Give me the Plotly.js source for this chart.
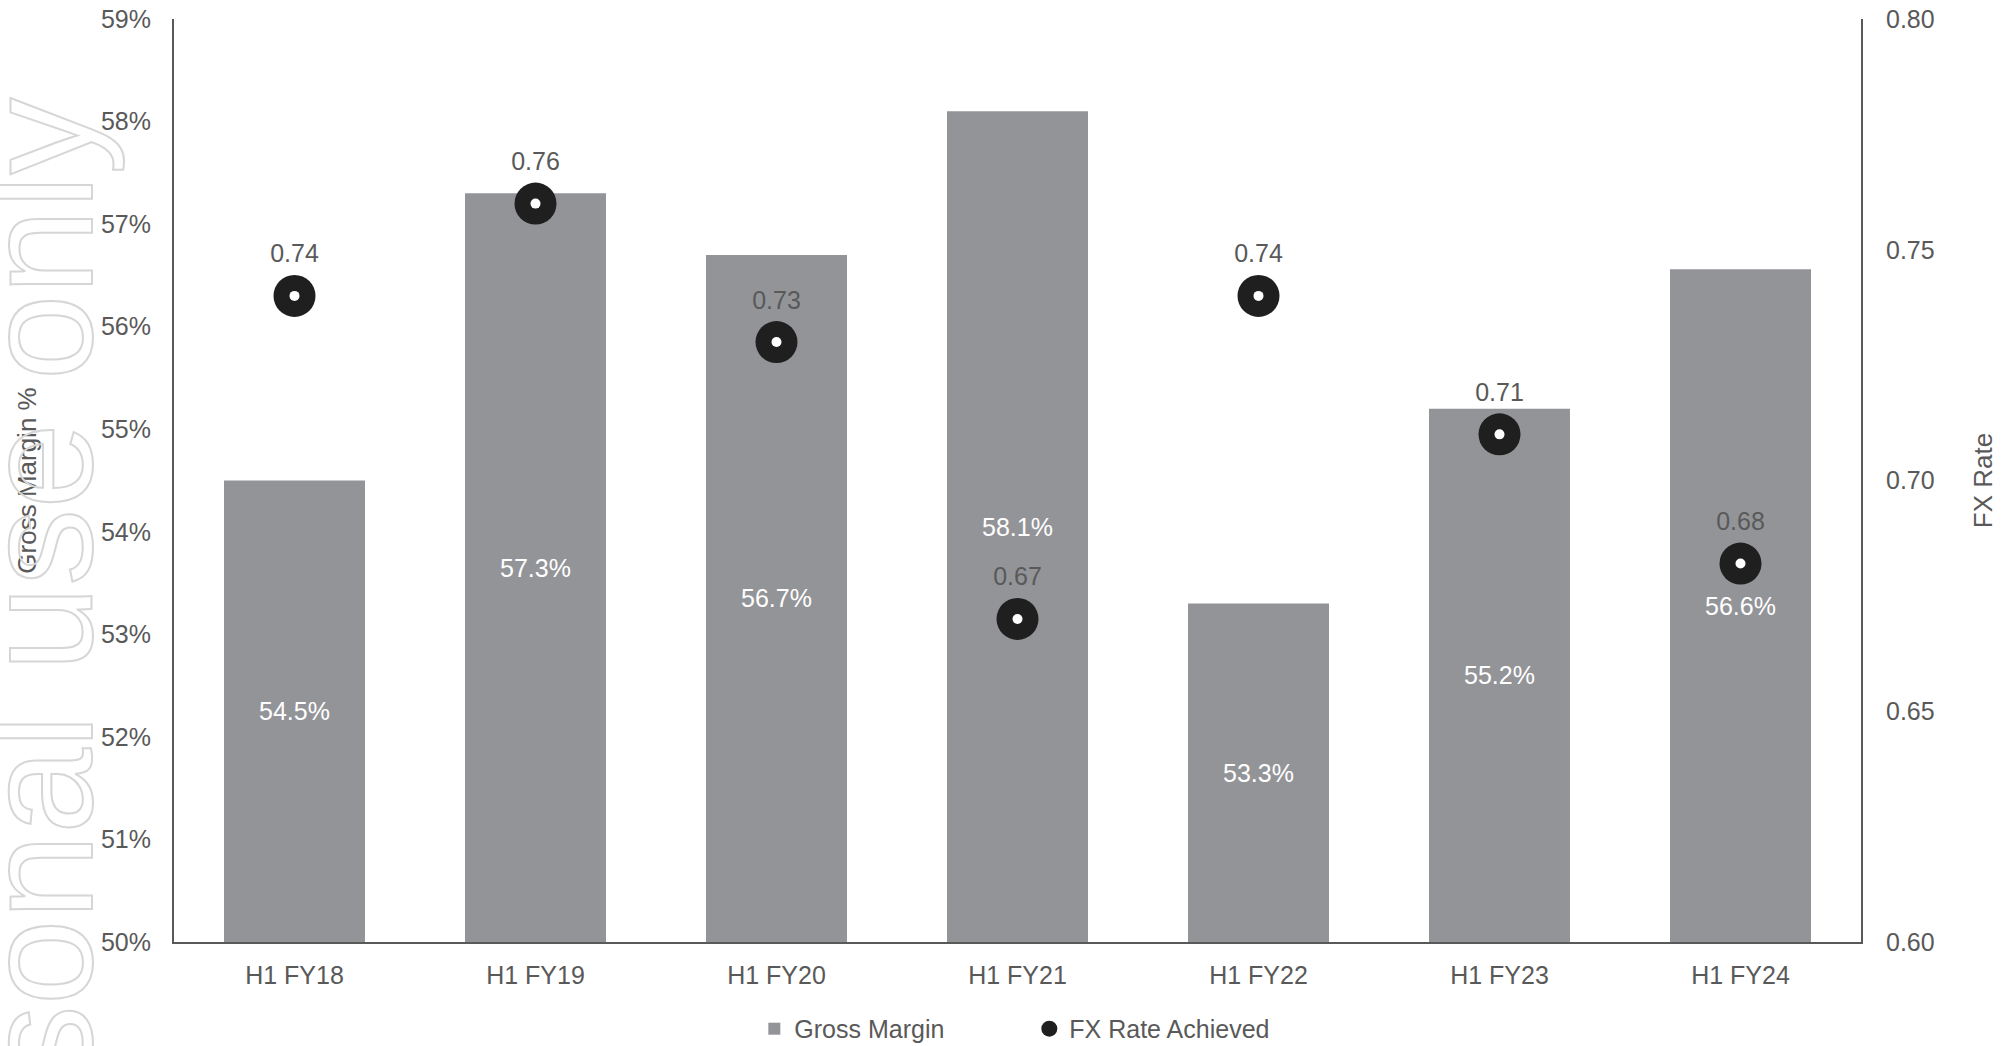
<!DOCTYPE html>
<html>
<head>
<meta charset="utf-8">
<script src="https://cdn.plot.ly/plotly-3.0.1.min.js"></script>
<style>
  html, body { margin: 0; padding: 0; background: #ffffff; }
  #chart { width: 2010px; height: 1046px; }
</style>
</head>
<body>
<div id="chart"></div>
<script>
// ---- Data ----
const categories = ['H1 FY18', 'H1 FY19', 'H1 FY20', 'H1 FY21', 'H1 FY22', 'H1 FY23', 'H1 FY24'];
const grossMargin = [54.5, 57.3, 56.7, 58.1, 53.3, 55.2, 56.56];
const fxRate = [0.74, 0.76, 0.73, 0.67, 0.74, 0.71, 0.682];
const leftTicks = [50, 51, 52, 53, 54, 55, 56, 57, 58, 59];
const rightTicks = [0.60, 0.65, 0.70, 0.75, 0.80];

const AXIS_BASE = 50; // left axis starts at 50%, bars are drawn from there
const GREY_TEXT = '#595959';
const FONT = 'Liberation Sans, Arial, sans-serif';

const traces = [
  {
    type: 'bar',
    name: 'Gross Margin',
    x: categories,
    base: AXIS_BASE,
    y: grossMargin.map(v => v - AXIS_BASE),
    customdata: grossMargin,
    marker: { color: '#939498' },
    texttemplate: '%{customdata:.1f}%',
    textposition: 'inside',
    insidetextanchor: 'middle',
    textangle: 0,
    textfont: { color: '#ffffff', size: 25, family: FONT },
    hovertemplate: '%{x}: %{customdata:.1f}%<extra></extra>'
  },
  {
    type: 'scatter',
    mode: 'markers+text',
    name: 'FX Rate Achieved',
    x: categories,
    y: fxRate,
    yaxis: 'y2',
    marker: { symbol: 'circle', size: 42, color: '#1f1f1f', line: { width: 0 } },
    texttemplate: '%{y:.2f}',
    textposition: 'top center',
    textfont: { color: GREY_TEXT, size: 25, family: FONT },
    cliponaxis: false
  },
  {
    type: 'scatter',
    mode: 'markers',
    name: 'FX centre',
    x: categories,
    y: fxRate,
    yaxis: 'y2',
    showlegend: false,
    hoverinfo: 'skip',
    marker: { symbol: 'circle', size: 10, color: '#ffffff', line: { width: 0 } },
    cliponaxis: false
  }
];

const layout = {
  width: 2010,
  height: 1046,
  paper_bgcolor: '#ffffff',
  plot_bgcolor: '#ffffff',
  margin: { l: 174, r: 149, t: 19, b: 104, pad: 0, autoexpand: false },
  font: { family: FONT, size: 25, color: GREY_TEXT },
  bargap: 0.415,
  showlegend: true,
  legend: {
    orientation: 'h',
    xref: 'paper', yref: 'container',
    x: 0.344, xanchor: 'left',
    y: 0.0163, yanchor: 'middle',
    font: { size: 25, color: GREY_TEXT, family: FONT },
    entrywidth: 230,
    entrywidthmode: 'pixels',
    bgcolor: 'rgba(0,0,0,0)'
  },
  xaxis: {
    type: 'category',
    automargin: false,
    showline: true,
    linecolor: GREY_TEXT,
    linewidth: 2,
    ticks: '',
    showgrid: false,
    zeroline: false,
    tickfont: { size: 25, color: GREY_TEXT, family: FONT },
    ticklabelstandoff: 10
  },
  yaxis: {
    automargin: false,
    range: [50, 59],
    tickvals: leftTicks,
    ticktext: leftTicks.map(v => v + '%'),
    showline: true,
    linecolor: GREY_TEXT,
    linewidth: 2,
    ticks: '',
    showgrid: false,
    zeroline: false,
    tickfont: { size: 25, color: GREY_TEXT, family: FONT },
    ticklabelstandoff: 16,
    title: { text: 'Gross Margin %', font: { size: 26, color: GREY_TEXT, family: FONT }, standoff: 57 }
  },
  yaxis2: {
    automargin: false,
    overlaying: 'y',
    side: 'right',
    range: [0.60, 0.80],
    tickvals: rightTicks,
    ticktext: rightTicks.map(v => v.toFixed(2)),
    showline: true,
    linecolor: GREY_TEXT,
    linewidth: 2,
    ticks: '',
    showgrid: false,
    zeroline: false,
    tickfont: { size: 25, color: GREY_TEXT, family: FONT },
    ticklabelstandoff: 18,
    title: { text: 'FX Rate', font: { size: 26, color: GREY_TEXT, family: FONT }, standoff: 40 }
  },
  annotations: [
    {
      text: 'Personal use only',
      xref: 'paper', yref: 'paper',
      x: -0.080, y: 0.2514,
      xanchor: 'center', yanchor: 'middle',
      textangle: -90,
      showarrow: false,
      font: { family: FONT, size: 154, color: '#d6d6d6' }
    }
  ]
};

Plotly.newPlot('chart', traces, layout, { displayModeBar: false, staticPlot: true }).then(function (gd) {
  const txt = gd.querySelectorAll('.annotation-text');
  txt.forEach(function (t) {
    t.style.fill = 'none';
    t.style.stroke = '#d6d6d6';
    t.style.strokeWidth = '2px';
  });
});
</script>
</body>
</html>
